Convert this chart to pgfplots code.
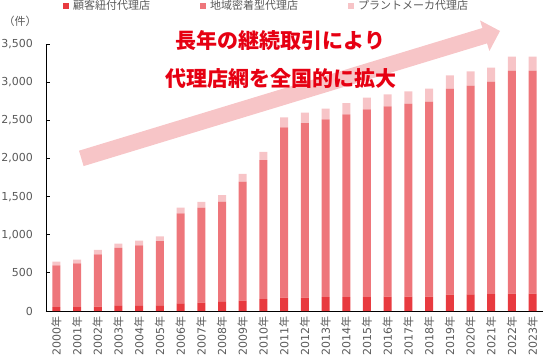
\documentclass[border=0pt]{standalone}
\usepackage{pgfplots}
\pgfplotsset{compat=1.18}
\usepackage{pgfplotstable}
\usepackage{fontspec}
\setmainfont{DejaVu Sans}
\newfontfamily\jp{Noto Sans CJK JP}
\definecolor{cA}{RGB}{232,58,63}
\definecolor{cB}{RGB}{238,118,123}
\definecolor{cC}{RGB}{247,196,199}
\definecolor{arr}{RGB}{247,197,199}
\definecolor{tred}{RGB}{230,0,18}
\definecolor{tgray}{RGB}{89,89,89}
\pgfplotstableread{
idx a b c
0 52 547 47
1 52 573 48
2 57 686 57
3 66 760 56
4 66 795 61
5 74 843 62
6 100 1180 74
7 109 1245 75
8 118 1315 85
9 135 1560 101
10 157 1822 107
11 175 2233 131
12 175 2289 136
13 183 2330 139
14 183 2395 148
15 183 2460 153
16 187 2496 157
17 189 2528 162
18 189 2555 170
19 214 2700 175
20 218 2735 189
21 222 2784 183
22 227 2923 183
23 227 2923 183
}\datatable
\begin{document}
\begin{tikzpicture}[x=1pt,y=1pt]
\useasboundingbox (0,0) rectangle (543,359);
% arrow (annotation)
\fill[arr] (79.0,208.3) -- (482.4,331.0) -- (480.0,338.6) -- (500,328) -- (489.4,308.0) -- (487.0,315.6) -- (83.6,192.9) -- cycle;
\begin{axis}[
  at={(46pt,48pt)}, anchor=south west,
  scale only axis, width=497pt, height=267pt,
  ybar stacked, bar width=8pt,
  xmin=-0.5, xmax=23.5, ymin=0, ymax=3500,
  axis x line=bottom, axis y line=left,
  axis line style={-, black, line width=0.8pt},
  tick align=inside,
  ytick={0,500,...,3500},
  xtick={0,...,23},
  xticklabels={2000{\jp 年},2001{\jp 年},2002{\jp 年},2003{\jp 年},2004{\jp 年},2005{\jp 年},2006{\jp 年},2007{\jp 年},2008{\jp 年},2009{\jp 年},2010{\jp 年},2011{\jp 年},2012{\jp 年},2013{\jp 年},2014{\jp 年},2015{\jp 年},2016{\jp 年},2017{\jp 年},2018{\jp 年},2019{\jp 年},2020{\jp 年},2021{\jp 年},2022{\jp 年},2023{\jp 年}},
  xtick style={draw=none},
  ytick style={black, line width=0.8pt},
  major tick length=4pt,
  x tick label style={rotate=90, anchor=east, inner sep=0pt, font=\fontsize{11}{13}\selectfont, text=tgray},
  xticklabel shift=5pt,
  y tick label style={inner sep=0pt, font=\fontsize{11}{13}\selectfont, text=tgray, /pgf/number format/1000 sep={,}, /pgf/number format/assume math mode=true},
  yticklabel shift=13pt,
  legend columns=3,
  legend style={at={(0.0342,1.142)}, anchor=west, draw=none, fill=none, inner sep=0pt,
    font=\jp\fontsize{11}{13}\selectfont, text=tgray,
    nodes={inner xsep=4pt, inner ysep=0pt},
    /tikz/every even column/.append style={column sep=46pt}},
  clip=false,
]
\addplot[fill=cA, draw=none, legend image code/.code={\fill[cA] (0pt,-3pt) rectangle (6pt,3pt);}] table[x=idx,y=a] {\datatable};
\addplot[fill=cB, draw=none, legend image code/.code={\fill[cB] (0pt,-3pt) rectangle (6pt,3pt);}] table[x=idx,y=b] {\datatable};
\addplot[fill=cC, draw=none, legend image code/.code={\fill[cC] (0pt,-3pt) rectangle (6pt,3pt);}] table[x=idx,y=c] {\datatable};
\legend{顧客紐付代理店,地域密着型代理店,プラントメーカ代理店}
\end{axis}
\node[font=\jp\fontsize{11}{13}\selectfont, text=tgray] at (20,337.3) {（件）};
\node[font=\jp\bfseries\fontsize{21}{24}\selectfont, text=tred] at (280.5,318.3) {長年の継続取引により};
\node[font=\jp\bfseries\fontsize{21}{24}\selectfont, text=tred] at (280.5,280.7) {代理店網を全国的に拡大};
\end{tikzpicture}
\end{document}
